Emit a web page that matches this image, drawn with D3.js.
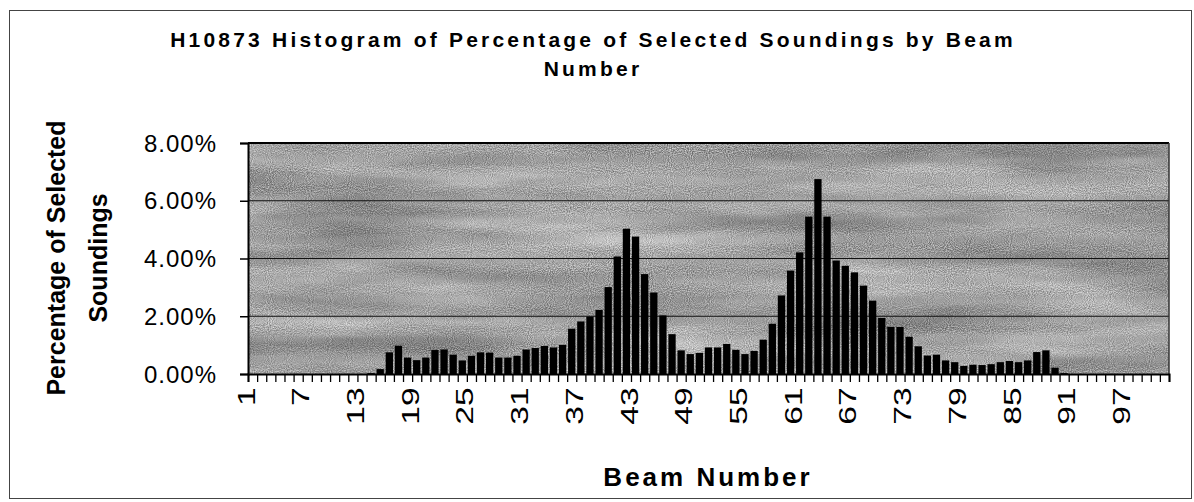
<!DOCTYPE html>
<html>
<head>
<meta charset="utf-8">
<script src="https://cdn.jsdelivr.net/npm/d3@7"></script>
<style>
    html, body { margin: 0; padding: 0; background: #fff; }
    svg { display: block; font-family: "Liberation Sans", Arial, sans-serif; }
</style>
</head>
<body>
<div class="beam-chart"></div>
<script>
'use strict';

// beam numbers 1..101 (SeaBat style swath)
const beams = d3.range(1, 102);

// percentage of selected soundings per beam
const selectedPct = [
    0, 0, 0, 0, 0, 0, 0, 0, 0, 0,              // 1-10
    0, 0, 0, 0.03, 0.17, 0.75, 0.98, 0.57, 0.48, 0.57,   // 11-20
    0.83, 0.85, 0.67, 0.47, 0.63, 0.75, 0.74, 0.57, 0.57, 0.63, // 21-30
    0.85, 0.90, 0.97, 0.92, 1.01, 1.57, 1.82, 1.99, 2.22, 3.01, // 31-40
    4.07, 5.03, 4.76, 3.46, 2.82, 2.03, 1.38, 0.82, 0.69, 0.73, // 41-50
    0.92, 0.92, 1.04, 0.84, 0.69, 0.80, 1.19, 1.74, 2.72, 3.58, // 51-60
    4.21, 5.45, 6.75, 5.45, 3.93, 3.75, 3.52, 3.06, 2.54, 1.94, // 61-70
    1.63, 1.63, 1.29, 0.96, 0.64, 0.67, 0.47, 0.41, 0.28, 0.32, // 71-80
    0.31, 0.34, 0.41, 0.45, 0.41, 0.47, 0.76, 0.82, 0.22, 0.03, // 81-90
    0, 0, 0, 0, 0, 0, 0, 0, 0, 0,              // 91-100
    0                                          // 101
];

const yTicks = [0, 2, 4, 6, 8];
const xLabelStep = 6;
const titleLines = ['H10873 Histogram of Percentage of Selected Soundings by Beam', 'Number'];
const yTitleLines = ['Percentage of Selected', 'Soundings'];
const xTitle = 'Beam Number';

const width = 1194;
const height = 502;
const plot = {left: 248, right: 1169, top: 143, bottom: 374};

const svg = d3.select('.beam-chart')
    .append('svg')
    .attr('width', width)
    .attr('height', height);

// granite-ish fill like the old Excel texture
const defs = svg.append('defs');
const filter = defs.append('filter')
    .attr('id', 'granite')
    .attr('filterUnits', 'userSpaceOnUse')
    .attr('x', plot.left).attr('y', plot.top)
    .attr('width', plot.right - plot.left).attr('height', plot.bottom - plot.top)
    .attr('color-interpolation-filters', 'sRGB');
filter.append('feTurbulence')
    .attr('type', 'fractalNoise')
    .attr('baseFrequency', '0.004 0.03')
    .attr('numOctaves', 4)
    .attr('seed', 7)
    .attr('result', 'cloud');
filter.append('feTurbulence')
    .attr('type', 'fractalNoise')
    .attr('baseFrequency', '0.95')
    .attr('numOctaves', 1)
    .attr('seed', 2)
    .attr('result', 'grain');
filter.append('feComposite')
    .attr('in', 'cloud').attr('in2', 'grain')
    .attr('operator', 'arithmetic')
    .attr('k1', 0).attr('k2', 0.45).attr('k3', 0.6).attr('k4', 0)
    .attr('result', 'mix');
filter.append('feColorMatrix')
    .attr('in', 'mix')
    .attr('type', 'matrix')
    .attr('values', '1 0 0 0 0.13  1 0 0 0 0.13  1 0 0 0 0.13  0 0 0 0 1');

// outer chart frame
svg.append('rect')
    .attr('x', 9.5).attr('y', 10.5)
    .attr('width', 1182).attr('height', 488)
    .attr('fill', 'none')
    .attr('stroke', '#444')
    .attr('stroke-width', 1);

const x = d3.scaleBand()
    .domain(beams)
    .range([plot.left, plot.right])
    .paddingInner(0.2)
    .paddingOuter(0.1);

// boundary scale for the tick marks between categories
const xEdge = d3.scaleLinear()
    .domain([0, beams.length])
    .range([plot.left, plot.right]);

const y = d3.scaleLinear()
    .domain([0, 8])
    .range([plot.bottom, plot.top]);

svg.append('rect')
    .attr('x', plot.left).attr('y', plot.top)
    .attr('width', plot.right - plot.left)
    .attr('height', plot.bottom - plot.top)
    .attr('fill', '#a8a8a8')
    .attr('filter', 'url(#granite)');

// gridlines
svg.append('g')
    .selectAll('line')
    .data(yTicks.filter((d) => d > 0 && d < 8))
    .enter().append('line')
    .attr('x1', plot.left).attr('x2', plot.right)
    .attr('y1', (d) => y(d)).attr('y2', (d) => y(d))
    .attr('stroke', '#111')
    .attr('stroke-width', 1.2);

// bars
svg.append('g')
    .selectAll('rect')
    .data(beams.map((b, i) => ({beam: b, value: selectedPct[i]})))
    .enter().append('rect')
    .attr('x', (d) => x(d.beam))
    .attr('width', x.bandwidth())
    .attr('y', (d) => y(d.value))
    .attr('height', (d) => y(0) - y(d.value))
    .attr('fill', '#000');

// plot frame: top and right
svg.append('line')
    .attr('x1', plot.left).attr('x2', plot.right)
    .attr('y1', plot.top).attr('y2', plot.top)
    .attr('stroke', '#000').attr('stroke-width', 2);
svg.append('line')
    .attr('x1', plot.right).attr('x2', plot.right)
    .attr('y1', plot.top).attr('y2', plot.bottom)
    .attr('stroke', '#333').attr('stroke-width', 1.5);

// y axis
const yAxis = svg.append('g')
    .attr('transform', 'translate(' + plot.left + ',0)')
    .call(d3.axisLeft(y)
        .tickValues(yTicks)
        .tickSize(8)
        .tickPadding(23)
        .tickFormat((d) => d.toFixed(2) + '%'));
yAxis.select('.domain').attr('stroke', '#000').attr('stroke-width', 2);
yAxis.selectAll('.tick line').attr('stroke', '#000').attr('stroke-width', 1.5);
yAxis.selectAll('.tick text')
    .attr('font-family', '"Liberation Sans", Arial, sans-serif')
    .attr('font-size', 24)
    .attr('letter-spacing', 1)
    .attr('fill', '#000')
    .attr('dy', '0.34em');

// x tick marks between categories
const xTicks = svg.append('g')
    .attr('transform', 'translate(0,' + plot.bottom + ')')
    .call(d3.axisBottom(xEdge)
        .tickValues(d3.range(0, beams.length + 1))
        .tickSize(8)
        .tickFormat(''));
xTicks.select('.domain').attr('stroke', '#000').attr('stroke-width', 2);
xTicks.selectAll('.tick line').attr('stroke', '#000').attr('stroke-width', 1.3);

// x tick labels, every 6th beam, rotated (stretched along the text like the original)
const xLabels = svg.append('g')
    .attr('transform', 'translate(0,' + plot.bottom + ')')
    .call(d3.axisBottom(x)
        .tickValues(beams.filter((b) => (b - 1) % xLabelStep === 0))
        .tickSize(0));
xLabels.select('.domain').remove();
xLabels.selectAll('.tick text')
    .attr('font-family', '"Liberation Sans", Arial, sans-serif')
    .attr('font-size', 24)
    .attr('fill', '#000')
    .attr('transform', 'rotate(-90) scale(1.4,1)')
    .attr('text-anchor', 'end')
    .attr('x', -9.5)
    .attr('y', 0)
    .attr('dy', 2);

// title
svg.append('text')
    .attr('x', 593)
    .attr('y', 47)
    .attr('text-anchor', 'middle')
    .attr('font-size', 21)
    .attr('font-weight', 'bold')
    .attr('letter-spacing', 3.2)
    .selectAll('tspan')
    .data(titleLines)
    .enter().append('tspan')
    .attr('x', 593)
    .attr('dy', (d, i) => i === 0 ? 0 : 29)
    .text((d) => d);

// y axis title
svg.append('g')
    .attr('transform', 'translate(0,258) rotate(-90)')
    .selectAll('text')
    .data(yTitleLines)
    .enter().append('text')
    .attr('x', 0)
    .attr('y', (d, i) => i === 0 ? 65 : 107)
    .attr('text-anchor', 'middle')
    .attr('font-size', 25)
    .attr('font-weight', 'bold')
    .text((d) => d);

// x axis title
svg.append('text')
    .attr('x', 708)
    .attr('y', 486)
    .attr('text-anchor', 'middle')
    .attr('font-size', 26)
    .attr('font-weight', 'bold')
    .attr('letter-spacing', 3)
    .text(xTitle);
</script>
</body>
</html>
